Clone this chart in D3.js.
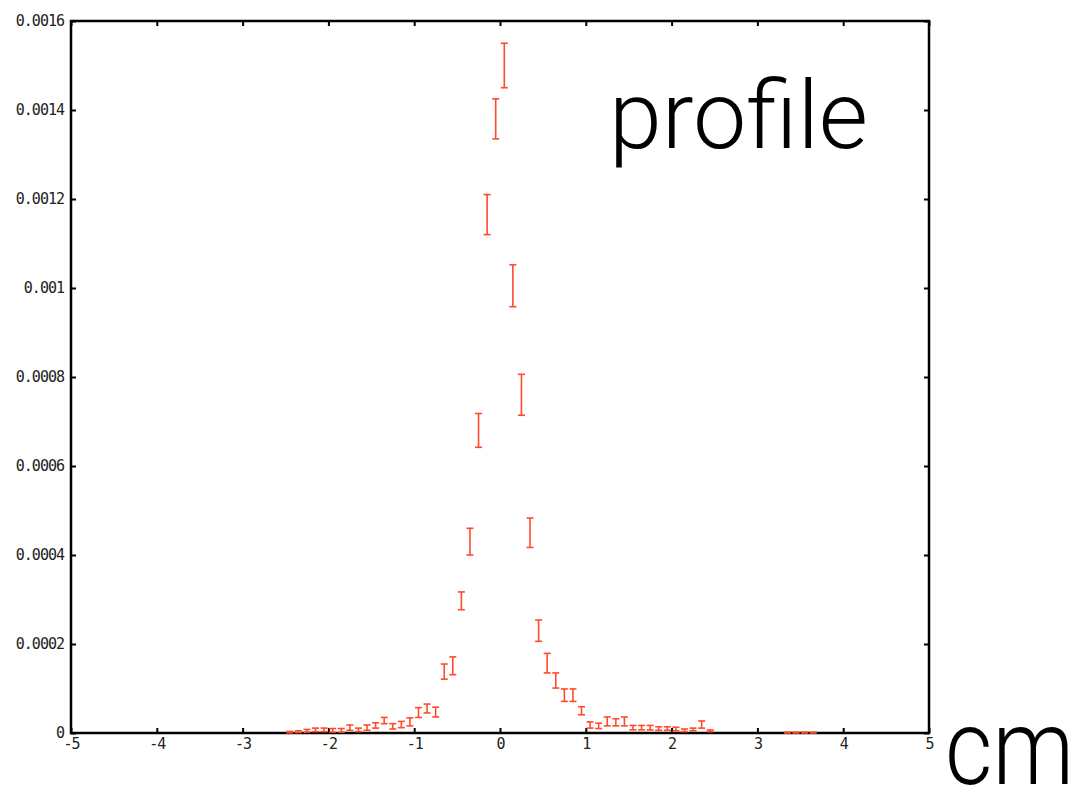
<!DOCTYPE html>
<html>
<head>
<meta charset="utf-8">
<script src="https://cdn.jsdelivr.net/npm/d3@7"></script>
<style>
  body { margin: 0; background: #fff; }
  .tick text { font-family: "DejaVu Sans Mono", monospace; font-size: 15px; letter-spacing: -1px; fill: #222; }
</style>
</head>
<body>
<div id="chart"></div>
<script>
var svgWidth = 1077;
var svgHeight = 787;

// plot box
var plotLeft = 71, plotRight = 929, plotTop = 21, plotBottom = 733;

// bin centres (cm), values and errors
var binCenters = [-2.45, -2.35, -2.25, -2.15, -2.05, -1.95, -1.85, -1.75, -1.65, -1.55,
  -1.45, -1.35, -1.25, -1.15, -1.05, -0.95, -0.85, -0.75, -0.65, -0.55,
  -0.45, -0.35, -0.25, -0.15, -0.05, 0.05, 0.15, 0.25, 0.35, 0.45,
  0.55, 0.65, 0.75, 0.85, 0.95, 1.05, 1.15, 1.25, 1.35, 1.45,
  1.55, 1.65, 1.75, 1.85, 1.95, 2.05, 2.15, 2.25, 2.35, 2.45,
  3.35, 3.45, 3.55, 3.65];
var binValues = [0.000002, 0.000003, 0.000005, 0.000007, 0.000007, 0.000006, 0.000006, 0.000012, 0.000007, 0.000012,
  0.000017, 0.000028, 0.000015, 0.000019, 0.000025, 0.000046, 0.000055, 0.000047, 0.000138, 0.000151,
  0.000297, 0.00043, 0.00068, 0.001165, 0.00138, 0.0015, 0.001005, 0.00076, 0.00045, 0.00023,
  0.000157, 0.000118, 0.000085, 0.000085, 0.00005, 0.000018, 0.000016, 0.000026, 0.000024, 0.000026,
  0.000012, 0.000012, 0.000012, 0.00001, 0.00001, 0.000009, 0.000006, 0.000008, 0.000019, 0.000005,
  0.000001, 0.000001, 0.000001, 0.000001];
var binErrors = [0.0000015, 0.000002, 0.000003, 0.000004, 0.000004, 0.000004, 0.000004, 0.000006, 0.000004, 0.000006,
  0.000006, 0.000007, 0.000006, 0.000007, 0.000009, 0.000011, 0.00001, 0.000011, 0.000017, 0.00002,
  0.00002, 0.00003, 0.000038, 0.000045, 0.000045, 0.00005, 0.000047, 0.000046, 0.000033, 0.000024,
  0.000022, 0.000017, 0.000014, 0.000014, 0.000009, 0.000007, 0.000006, 0.00001, 0.000008, 0.00001,
  0.000005, 0.000005, 0.000005, 0.000004, 0.000004, 0.000004, 0.000003, 0.000003, 0.000008, 0.000002,
  0.000001, 0.000001, 0.000001, 0.000001];

var xTicks = [-5, -4, -3, -2, -1, 0, 1, 2, 3, 4, 5];
var yTicks = [0, 0.0002, 0.0004, 0.0006, 0.0008, 0.001, 0.0012, 0.0014, 0.0016];

var svg = d3.select("#chart")
  .append("svg")
  .attr("width", svgWidth)
  .attr("height", svgHeight);

var xScale = d3.scaleLinear().domain([-5, 5]).range([plotLeft, plotRight]);
var yScale = d3.scaleLinear().domain([0, 0.0016]).range([plotBottom, plotTop]);

var tickLen = 5;

// bottom and left axes with labels
var xAxis = d3.axisBottom(xScale)
  .tickValues(xTicks)
  .tickSize(-tickLen)
  .tickFormat(function(d) { return d < 0 ? "-" + Math.abs(d) : d; });

var yAxis = d3.axisLeft(yScale)
  .tickValues(yTicks)
  .tickSize(-tickLen)
  .tickFormat(function(d) { return d === 0 ? "0" : String(+d.toFixed(4)); });

svg.append("g")
  .attr("class", "xAxis")
  .attr("transform", "translate(0," + plotBottom + ")")
  .call(xAxis)
  .selectAll(".tick text")
  .attr("y", 5)
  .attr("dy", "0.71em");

svg.append("g")
  .attr("class", "yAxis")
  .attr("transform", "translate(" + plotLeft + ",0)")
  .call(yAxis)
  .selectAll(".tick text")
  .attr("x", -7);

// mirror ticks on top and right
svg.append("g")
  .attr("transform", "translate(0," + plotTop + ")")
  .call(d3.axisTop(xScale).tickValues(xTicks).tickSize(-tickLen).tickFormat(""));
svg.append("g")
  .attr("transform", "translate(" + plotRight + ",0)")
  .call(d3.axisRight(yScale).tickValues(yTicks).tickSize(-tickLen).tickFormat(""));

svg.selectAll(".domain").remove();
svg.selectAll(".tick line").attr("stroke", "#000").attr("stroke-width", 2);

// frame
svg.append("rect")
  .attr("x", plotLeft)
  .attr("y", plotTop)
  .attr("width", plotRight - plotLeft)
  .attr("height", plotBottom - plotTop)
  .attr("fill", "none")
  .attr("stroke", "#000")
  .attr("stroke-width", 2.5);

// error bars
var color = "#ff4b2b";
var capHalf = 3.5;

var bars = svg.append("g").attr("class", "errbars")
  .selectAll("g")
  .data(binCenters.map(function(c, i) {
    return { x: c, v: binValues[i], e: binErrors[i] };
  }))
  .enter()
  .append("g");

bars.append("line")
  .attr("x1", function(d) { return xScale(d.x); })
  .attr("x2", function(d) { return xScale(d.x); })
  .attr("y1", function(d) { return yScale(d.v - d.e); })
  .attr("y2", function(d) { return yScale(d.v + d.e); })
  .attr("stroke", color)
  .attr("stroke-width", 1.6);

bars.append("line")
  .attr("x1", function(d) { return xScale(d.x) - capHalf; })
  .attr("x2", function(d) { return xScale(d.x) + capHalf; })
  .attr("y1", function(d) { return yScale(d.v + d.e); })
  .attr("y2", function(d) { return yScale(d.v + d.e); })
  .attr("stroke", color)
  .attr("stroke-width", 1.6);

bars.append("line")
  .attr("x1", function(d) { return xScale(d.x) - capHalf; })
  .attr("x2", function(d) { return xScale(d.x) + capHalf; })
  .attr("y1", function(d) { return yScale(d.v - d.e); })
  .attr("y2", function(d) { return yScale(d.v - d.e); })
  .attr("stroke", color)
  .attr("stroke-width", 1.6);

// big annotations
svg.append("text")
  .attr("x", 609)
  .attr("y", 148)
  .attr("font-family", "Roboto, 'Liberation Sans', sans-serif")
  .attr("font-weight", 300)
  .attr("font-size", 94)
  .attr("textLength", 259)
  .attr("lengthAdjust", "spacingAndGlyphs")
  .attr("fill", "#000")
  .text("profile");

svg.append("text")
  .attr("x", 945)
  .attr("y", 784)
  .attr("font-family", "Roboto, 'Liberation Sans', sans-serif")
  .attr("font-weight", 300)
  .attr("font-size", 106)
  .attr("textLength", 129)
  .attr("lengthAdjust", "spacingAndGlyphs")
  .attr("fill", "#000")
  .text("cm");
</script>
</body>
</html>
